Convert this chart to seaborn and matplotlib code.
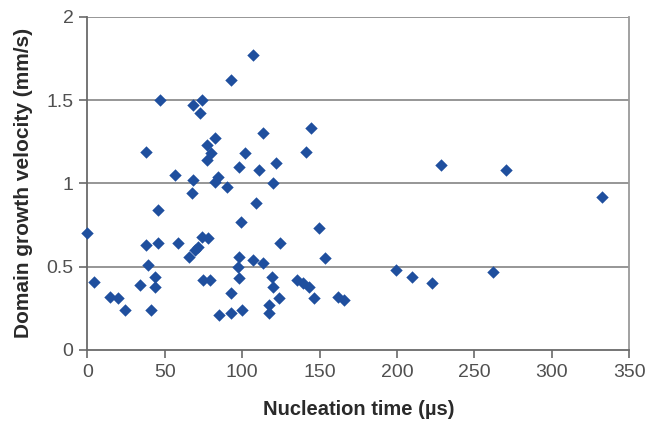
import matplotlib
matplotlib.use("Agg")
import matplotlib.pyplot as plt
import seaborn as sns
import pandas as pd

# Nucleation time (µs) and domain growth velocity (mm/s) for each domain
nucleation_time = [
    0, 4, 14.5, 20, 24, 34, 37.6, 37.6, 39, 41, 43.6, 43.6, 45.7, 45.7, 46.8,
    56.5, 58.7, 65.8, 67.3, 68.4, 68.4, 69.4, 71.5, 72.7, 73.8, 73.8, 74.8,
    77, 77, 78, 79, 80, 82.4, 82.4, 84.5, 85, 90, 92.5, 92.5, 93, 97.4, 98,
    98, 98, 99, 100, 102, 107, 107, 108.8, 111, 113.4, 113.6, 117, 117.5,
    119, 119.6, 120, 121.5, 124, 124.5, 135.5, 139.4, 141.5, 142.9, 144.5,
    146.5, 149.5, 153.6, 162, 165.7, 199.3, 209.6, 222.5, 228.2, 261.7,
    270.2, 332.6,
]
growth_velocity = [
    0.70, 0.41, 0.32, 0.31, 0.24, 0.39, 1.19, 0.63, 0.51, 0.24, 0.44, 0.38,
    0.84, 0.64, 1.50, 1.05, 0.64, 0.56, 0.94, 1.02, 1.47, 0.60, 0.62, 1.42,
    1.50, 0.68, 0.42, 1.23, 1.14, 0.67, 0.42, 1.18, 1.27, 1.01, 1.04, 0.21,
    0.98, 0.34, 0.22, 1.62, 0.50, 1.10, 0.56, 0.43, 0.77, 0.24, 1.18, 1.77,
    0.54, 0.88, 1.08, 1.30, 0.52, 0.27, 0.22, 0.44, 1.00, 0.38, 1.12, 0.31,
    0.64, 0.42, 0.40, 1.19, 0.38, 1.33, 0.31, 0.73, 0.55, 0.32, 0.30, 0.48,
    0.44, 0.40, 1.11, 0.47, 1.08, 0.92,
]

x_ticks = [0, 50, 100, 150, 200, 250, 300, 350]
y_ticks = [0, 0.5, 1, 1.5, 2]
y_tick_labels = ["0", "0.5", "1", "1.5", "2"]

df = pd.DataFrame({"t": nucleation_time, "v": growth_velocity})

sns.set_theme(style="white")
plt.rcParams["font.family"] = ["Liberation Sans", "DejaVu Sans"]

fig = plt.figure(figsize=(6.48, 4.21), dpi=100)
ax = fig.add_axes([0.135, 0.169, 0.836, 0.791])

for yv in y_ticks[1:]:
    ax.axhline(yv, color="#8e8e8e", linewidth=1.3, zorder=0)

sns.scatterplot(data=df, x="t", y="v", marker="D", s=40, color="#1f4f9e",
                linewidth=0, ax=ax, zorder=3, clip_on=False)

ax.set_xlim(0, 350)
ax.set_ylim(0, 2)
ax.set_xticks(x_ticks)
ax.set_xticklabels([str(v) for v in x_ticks])
ax.set_yticks(y_ticks)
ax.set_yticklabels(y_tick_labels)

for side in ["left", "bottom"]:
    ax.spines[side].set_color("#6a6a6a")
    ax.spines[side].set_linewidth(1.3)
ax.spines["right"].set_color("#9a9a9a")
ax.spines["right"].set_linewidth(1.3)
ax.spines["top"].set_visible(False)

ax.tick_params(axis="both", which="major", direction="out", length=6,
               width=1.2, color="#6a6a6a", labelsize=14, labelcolor="#505050",
               pad=4, bottom=True, left=True)

ax.set_xlabel("Nucleation time (µs)", fontsize=14.5, fontweight="bold",
              color="#2a2a2a", labelpad=14)
ax.set_ylabel("Domain growth velocity (mm/s)", fontsize=15, fontweight="bold",
              color="#2a2a2a", labelpad=10)

fig.savefig("out.png", dpi=100, facecolor="white")
